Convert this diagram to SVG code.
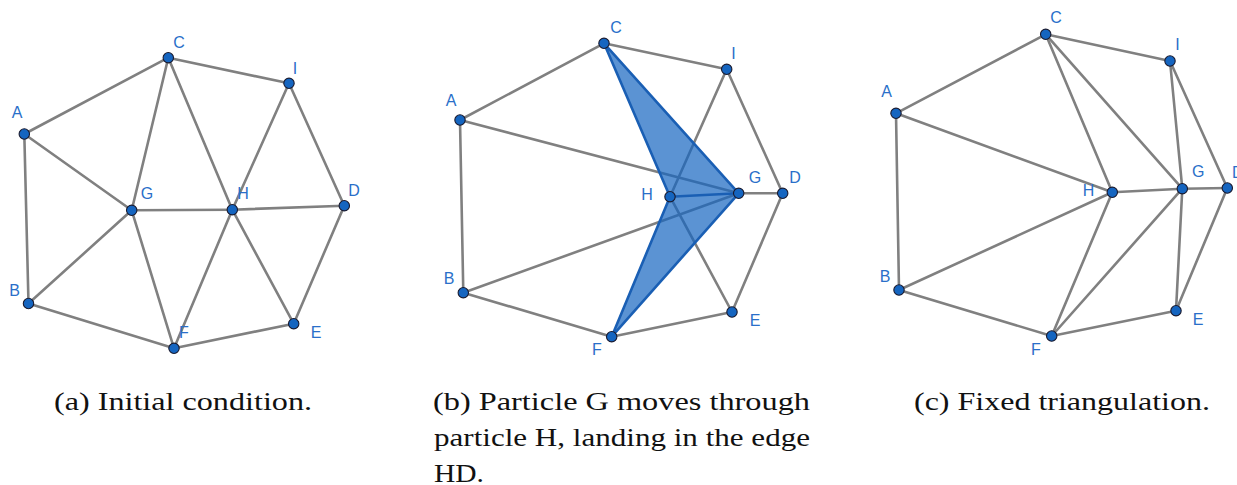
<svg xmlns="http://www.w3.org/2000/svg" width="1237" height="485" viewBox="0 0 1237 485">
<style>
.e{stroke:#808080;stroke-width:2.6;fill:none;stroke-linecap:round}
.be{stroke:#1a5fb4;stroke-width:2.6;fill:none;stroke-linejoin:round;stroke-linecap:round}
.poly{fill:#1565c0;fill-opacity:0.7;stroke:#1a5fb4;stroke-width:2.6;stroke-linejoin:round}
.n circle{fill:#1565c0;stroke:#1a1a2e;stroke-width:1.1}
.n text{font-family:"Liberation Sans",Arial,sans-serif;font-size:16px;fill:#2a6fc9;text-anchor:middle}
.cap{font-family:"Liberation Serif","Times New Roman",serif;font-size:25px;fill:#111}
</style>
<rect width="1237" height="485" fill="#fff"/>

<!-- Panel (a) -->
<g id="panel-a">
<g id="connectors-a">
<line class="e" x1="24.3" y1="134" x2="168.3" y2="57.7"/>
<line class="e" x1="168.3" y1="57.7" x2="289" y2="83.3"/>
<line class="e" x1="289" y1="83.3" x2="344.3" y2="205.7"/>
<line class="e" x1="344.3" y1="205.7" x2="293.7" y2="323.7"/>
<line class="e" x1="293.7" y1="323.7" x2="174" y2="348.3"/>
<line class="e" x1="174" y1="348.3" x2="28.5" y2="303.5"/>
<line class="e" x1="28.5" y1="303.5" x2="24.3" y2="134"/>
<line class="e" x1="24.3" y1="134" x2="131.7" y2="210.3"/>
<line class="e" x1="28.5" y1="303.5" x2="131.7" y2="210.3"/>
<line class="e" x1="168.3" y1="57.7" x2="131.7" y2="210.3"/>
<line class="e" x1="131.7" y1="210.3" x2="174" y2="348.3"/>
<line class="e" x1="131.7" y1="210.3" x2="232.3" y2="209.7"/>
<line class="e" x1="168.3" y1="57.7" x2="232.3" y2="209.7"/>
<line class="e" x1="232.3" y1="209.7" x2="344.3" y2="205.7"/>
<line class="e" x1="232.3" y1="209.7" x2="289" y2="83.3"/>
<line class="e" x1="232.3" y1="209.7" x2="174" y2="348.3"/>
<line class="e" x1="232.3" y1="209.7" x2="293.7" y2="323.7"/>
</g>
<g id="a-A" class="n"><circle cx="24.3" cy="134" r="5.2"/><text x="17" y="118">A</text></g>
<g id="a-C" class="n"><circle cx="168.3" cy="57.7" r="5.2"/><text x="179" y="47.5">C</text></g>
<g id="a-I" class="n"><circle cx="289" cy="83.3" r="5.2"/><text x="295" y="73.5">I</text></g>
<g id="a-D" class="n"><circle cx="344.3" cy="205.7" r="5.2"/><text x="354" y="196">D</text></g>
<g id="a-E" class="n"><circle cx="293.7" cy="323.7" r="5.2"/><text x="316" y="337.5">E</text></g>
<g id="a-F" class="n"><circle cx="174" cy="348.3" r="5.2"/><text x="184" y="337.5">F</text></g>
<g id="a-B" class="n"><circle cx="28.5" cy="303.5" r="5.2"/><text x="14.5" y="296">B</text></g>
<g id="a-G" class="n"><circle cx="131.7" cy="210.3" r="5.2"/><text x="147" y="199">G</text></g>
<g id="a-H" class="n"><circle cx="232.3" cy="209.7" r="5.2"/><text x="243" y="199">H</text></g>
</g>

<!-- Panel (b) -->
<g id="panel-b">
<g id="connectors-b">
<line class="e" x1="460" y1="120" x2="604" y2="43.3"/>
<line class="e" x1="604" y1="43.3" x2="726.7" y2="69.3"/>
<line class="e" x1="726.7" y1="69.3" x2="782.7" y2="193.3"/>
<line class="e" x1="782.7" y1="193.3" x2="732" y2="312"/>
<line class="e" x1="732" y1="312" x2="611.7" y2="336.7"/>
<line class="e" x1="611.7" y1="336.7" x2="463.3" y2="292.7"/>
<line class="e" x1="463.3" y1="292.7" x2="460" y2="120"/>
<line class="e" x1="460" y1="120" x2="738.7" y2="193.3"/>
<line class="e" x1="463.3" y1="292.7" x2="738.7" y2="193.3"/>
<line class="e" x1="738.7" y1="193.3" x2="782.7" y2="193.3"/>
<line class="e" x1="670" y1="196.7" x2="726.7" y2="69.3"/>
<line class="e" x1="670" y1="196.7" x2="732" y2="312"/>
<polygon id="region-b" class="poly" points="604,43.3 738.7,193.3 611.7,336.7 670,196.7"/>
<line class="be" x1="670" y1="196.7" x2="738.7" y2="193.3"/>
</g>
<g id="b-A" class="n"><circle cx="460" cy="120" r="5.2"/><text x="451" y="105.5">A</text></g>
<g id="b-C" class="n"><circle cx="604" cy="43.3" r="5.2"/><text x="616" y="32.5">C</text></g>
<g id="b-I" class="n"><circle cx="726.7" cy="69.3" r="5.2"/><text x="733.5" y="58.5">I</text></g>
<g id="b-D" class="n"><circle cx="782.7" cy="193.3" r="5.2"/><text x="795" y="183">D</text></g>
<g id="b-E" class="n"><circle cx="732" cy="312" r="5.2"/><text x="755" y="326">E</text></g>
<g id="b-F" class="n"><circle cx="611.7" cy="336.7" r="5.2"/><text x="597" y="354.5">F</text></g>
<g id="b-B" class="n"><circle cx="463.3" cy="292.7" r="5.2"/><text x="449" y="283.5">B</text></g>
<g id="b-G" class="n"><circle cx="738.7" cy="193.3" r="5.2"/><text x="755" y="183">G</text></g>
<g id="b-H" class="n"><circle cx="670" cy="196.7" r="5.2"/><text x="647" y="200">H</text></g>
</g>

<!-- Panel (c) -->
<g id="panel-c">
<g id="connectors-c">
<line class="e" x1="896" y1="113.3" x2="1045.7" y2="34.3"/>
<line class="e" x1="1045.7" y1="34.3" x2="1170" y2="61"/>
<line class="e" x1="1170" y1="61" x2="1227.3" y2="188"/>
<line class="e" x1="1227.3" y1="188" x2="1176" y2="310.7"/>
<line class="e" x1="1176" y1="310.7" x2="1051.7" y2="336"/>
<line class="e" x1="1051.7" y1="336" x2="899" y2="290"/>
<line class="e" x1="899" y1="290" x2="896" y2="113.3"/>
<line class="e" x1="896" y1="113.3" x2="1112.3" y2="192.3"/>
<line class="e" x1="899" y1="290" x2="1112.3" y2="192.3"/>
<line class="e" x1="1045.7" y1="34.3" x2="1112.3" y2="192.3"/>
<line class="e" x1="1045.7" y1="34.3" x2="1182.3" y2="188.7"/>
<line class="e" x1="1170" y1="61" x2="1182.3" y2="188.7"/>
<line class="e" x1="1112.3" y1="192.3" x2="1182.3" y2="188.7"/>
<line class="e" x1="1182.3" y1="188.7" x2="1227.3" y2="188"/>
<line class="e" x1="1182.3" y1="188.7" x2="1176" y2="310.7"/>
<line class="e" x1="1112.3" y1="192.3" x2="1051.7" y2="336"/>
<line class="e" x1="1182.3" y1="188.7" x2="1051.7" y2="336"/>
</g>
<g id="c-A" class="n"><circle cx="896" cy="113.3" r="5.2"/><text x="886.5" y="97">A</text></g>
<g id="c-C" class="n"><circle cx="1045.7" cy="34.3" r="5.2"/><text x="1056" y="22.5">C</text></g>
<g id="c-I" class="n"><circle cx="1170" cy="61" r="5.2"/><text x="1177.5" y="49.5">I</text></g>
<g id="c-D" class="n"><circle cx="1227.3" cy="188" r="5.2"/><text x="1232" y="177.5" style="text-anchor:start">D</text></g>
<g id="c-E" class="n"><circle cx="1176" cy="310.7" r="5.2"/><text x="1198" y="324.5">E</text></g>
<g id="c-F" class="n"><circle cx="1051.7" cy="336" r="5.2"/><text x="1036" y="354.5">F</text></g>
<g id="c-B" class="n"><circle cx="899" cy="290" r="5.2"/><text x="885" y="282">B</text></g>
<g id="c-G" class="n"><circle cx="1182.3" cy="188.7" r="5.2"/><text x="1198.3" y="177">G</text></g>
<g id="c-H" class="n"><circle cx="1112.3" cy="192.3" r="5.2"/><text x="1088.5" y="196">H</text></g>
</g>

<!-- Captions -->
<g id="captions">
<text class="cap" x="54" y="409.5" textLength="258" lengthAdjust="spacingAndGlyphs">(a) Initial condition.</text>
<text class="cap" x="433" y="409.5" textLength="377" lengthAdjust="spacingAndGlyphs">(b) Particle G moves through</text>
<text class="cap" x="434" y="446" textLength="376" lengthAdjust="spacingAndGlyphs">particle H, landing in the edge</text>
<text class="cap" x="434" y="481.5" textLength="50" lengthAdjust="spacingAndGlyphs">HD.</text>
<text class="cap" x="914" y="409.5" textLength="296" lengthAdjust="spacingAndGlyphs">(c) Fixed triangulation.</text>
</g>
</svg>
